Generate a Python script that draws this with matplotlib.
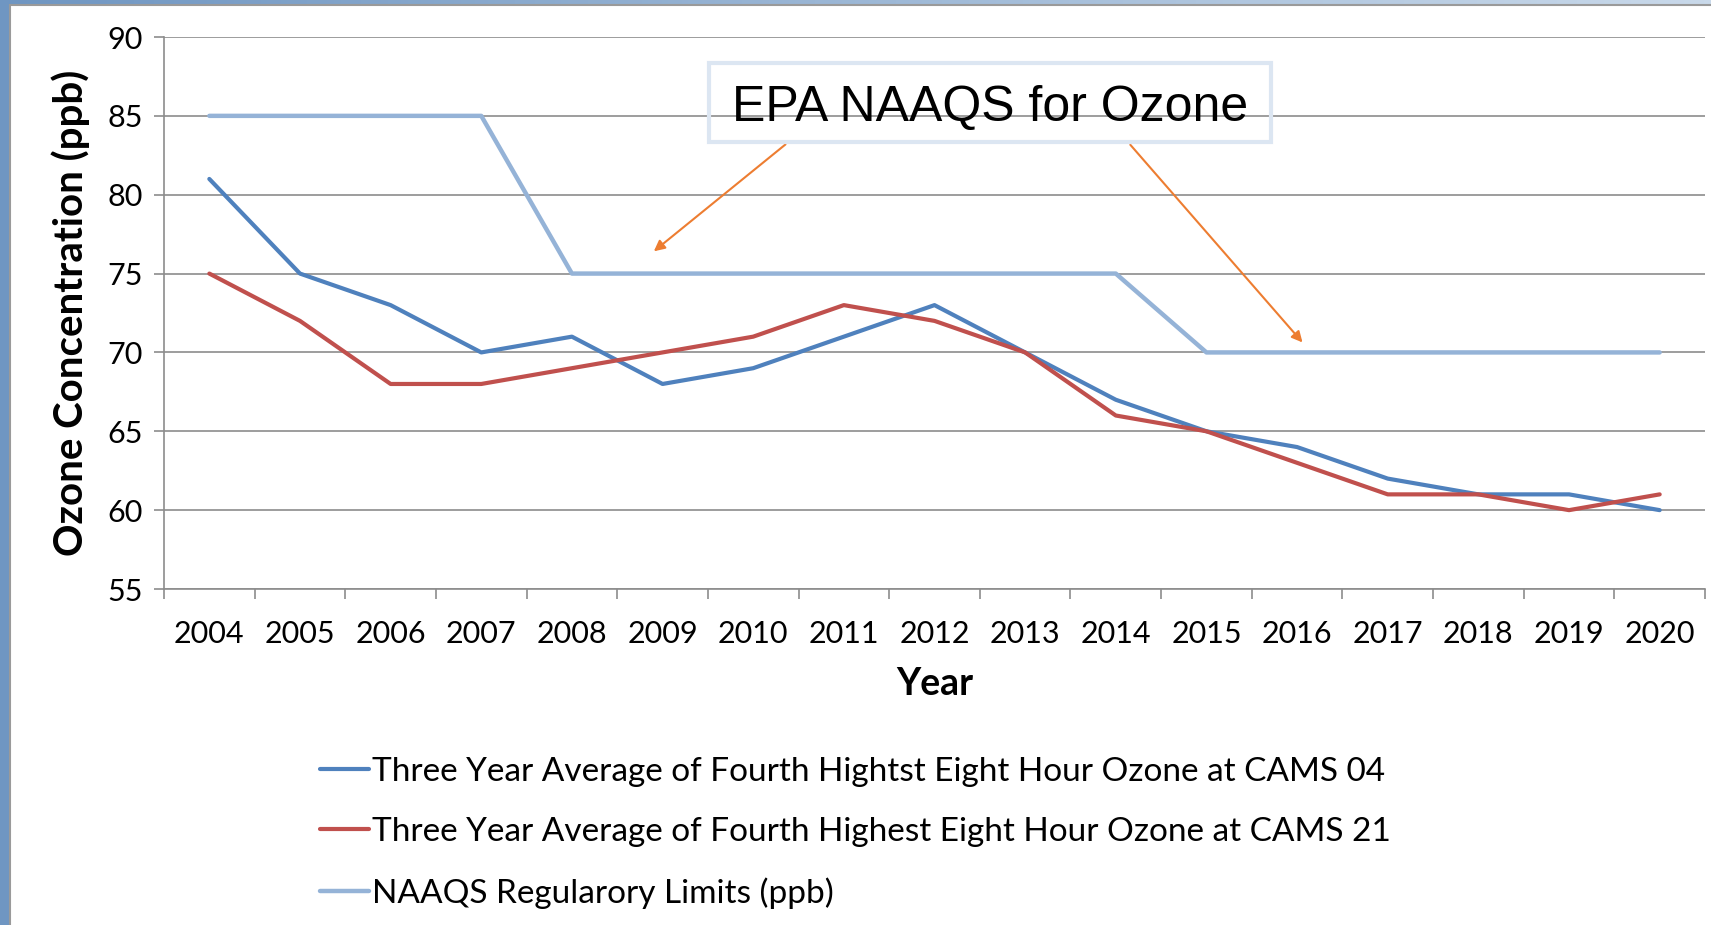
import numpy as np
import matplotlib.pyplot as plt
from matplotlib.patches import Rectangle
from matplotlib.ticker import FixedLocator

plt.rcParams['font.family'] = ['Lato', 'DejaVu Sans']

# 데이터
years = [str(y) for y in range(2004, 2021)]
cams04 = [81, 75, 73, 70, 71, 68, 69, 71, 73, 70, 67, 65, 64, 62, 61, 61, 60]
cams21 = [75, 72, 68, 68, 69, 70, 71, 73, 72, 70, 66, 65, 63, 61, 61, 60, 61]
naaqs = [85, 85, 85, 85, 75, 75, 75, 75, 75, 75, 75, 70, 70, 70, 70, 70, 70]
labels = ['Three Year Average of Fourth Hightst Eight Hour Ozone at CAMS 04',
          'Three Year Average of Fourth Highest Eight Hour Ozone at CAMS 21',
          'NAAQS Regularory Limits (ppb)']
yticks = [55, 60, 65, 70, 75, 80, 85, 90]

W, H = 1711, 925
fig = plt.figure(figsize=(W / 100, H / 100), dpi=100)

# 바깥 배경 (파란 그라데이션) + 흰 차트 영역
bg = fig.add_axes([0, 0, 1, 1], zorder=-10)
grad = np.linspace(0, 1, 256).reshape(1, -1)
bg.imshow(grad, cmap=plt.matplotlib.colors.LinearSegmentedColormap.from_list(
    'bg', ['#6f96c2', '#c9d9ea']), aspect='auto', extent=[0, 1, 0, 1])
bg.add_patch(Rectangle((10 / W, -0.01), 1.0, 1 - 5 / H + 0.01,
                       facecolor='white', edgecolor='#9a9a9a', lw=1.5))
bg.set_xlim(0, 1)
bg.set_ylim(0, 1)
bg.axis('off')

ax = fig.add_axes([164 / W, 1 - 589 / H, (1705 - 164) / W, (589 - 37) / H])
ax.patch.set_alpha(0)
x = np.arange(len(years))

l1, = ax.plot(x, cams04, color='#4f81bd', lw=3, solid_capstyle='round', zorder=3)
l2, = ax.plot(x, cams21, color='#c0504d', lw=3, solid_capstyle='round', zorder=3)
l3, = ax.plot(x, naaqs, color='#95b3d7', lw=3.2, solid_capstyle='round', zorder=2)

ax.set_xlim(-0.5, len(years) - 0.5)
ax.set_ylim(55, 90)
ax.set_yticks(yticks)
ax.yaxis.grid(True, color='#8c8c8c', lw=1.2)
ax.set_axisbelow(True)
ax.set_xticks(x)
ax.set_xticklabels(years, fontsize=22)
ax.xaxis.set_minor_locator(FixedLocator(np.arange(-0.5, len(years), 1)))
ax.tick_params(axis='x', which='major', length=0, pad=22)
ax.tick_params(axis='x', which='minor', length=7, color='#8c8c8c', width=1.2)
ax.tick_params(axis='y', length=7, color='#8c8c8c', width=1.2, labelsize=22, pad=8)
for s in ['top', 'right']:
    ax.spines[s].set_visible(False)
for s in ['left', 'bottom']:
    ax.spines[s].set_color('#8c8c8c')
    ax.spines[s].set_linewidth(1.2)

ax.set_xlabel('Year', fontsize=27, fontweight='bold', labelpad=14)
ax.set_ylabel('Ozone Concentration (ppb)', fontsize=29, fontweight='bold', labelpad=13)

# 주석 상자(투명)와 화살표
fig.patches.append(Rectangle((709 / W, 1 - 142 / H), (1271 - 709) / W, (142 - 63) / H,
                             transform=fig.transFigure, facecolor='none',
                             edgecolor='#dce6f2', lw=3, zorder=5))
fig.text(990 / W, 1 - 108 / H, 'EPA NAAQS for Ozone', fontsize=36, ha='center', va='center',
         family=['Liberation Sans', 'DejaVu Sans'], zorder=6)
arrow = dict(arrowstyle='-|>', color='#ed7d31', lw=1.5, mutation_scale=16)
ax.annotate('', xy=(4.88, 76.3), xytext=(6.38, 83.3), arrowprops=arrow, zorder=4)
ax.annotate('', xy=(12.08, 70.5), xytext=(10.14, 83.3), arrowprops=arrow, zorder=4)

fig.legend([l1, l2, l3], labels, loc='upper left', bbox_to_anchor=(320 / W, 1 - 757 / H),
           frameon=False, fontsize=24, handlelength=1.47, handletextpad=0.08, labelspacing=0.9,
           borderpad=0, borderaxespad=0)

fig.savefig('out.png', dpi=100)
